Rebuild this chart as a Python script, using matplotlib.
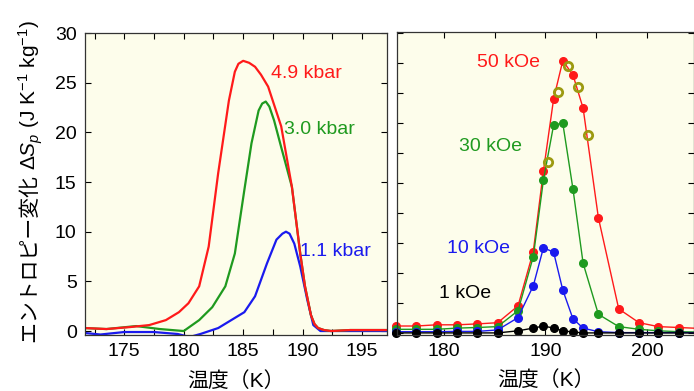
import matplotlib
matplotlib.use("Agg")
import matplotlib.pyplot as plt
from matplotlib.ticker import MultipleLocator

plt.rcParams['font.family'] = ['Liberation Sans', 'Noto Sans CJK JP', 'DejaVu Sans']
plt.rcParams['mathtext.fontset'] = 'custom'
plt.rcParams['mathtext.rm'] = 'Liberation Sans'
plt.rcParams['mathtext.it'] = 'Liberation Sans:italic'

# ---- left panel: pressure-induced entropy change (curves) ----
t_red = [171.7, 173.5, 175.5, 177.1, 178.5, 179.6, 180.4, 181.3, 182.1, 182.9, 183.8, 184.3,
         184.6, 185.0, 185.5, 186.0, 186.5, 187.1, 188.2, 189.1, 189.8, 190.2, 190.7, 191.0,
         191.3, 191.8, 192.4, 194.0, 197.1]
s_red = [0.3, 0.2, 0.4, 0.6, 1.1, 1.9, 2.8, 4.5, 8.5, 15.9, 23.2, 26.1,
         26.9, 27.2, 27.0, 26.6, 25.8, 24.6, 20.6, 14.5, 7.8, 4.5, 1.6, 0.7,
         0.3, 0.1, 0.0, 0.1, 0.1]

t_green = [171.7, 173.5, 176.0, 178.0, 180.0, 181.3, 182.4, 183.5, 184.3, 185.1, 185.7,
           186.3, 186.6, 186.9, 187.2, 187.6, 188.2, 189.1, 189.8, 190.2, 190.7, 191.0,
           191.3, 191.8, 192.4, 194.0, 197.1]
s_green = [0.3, 0.2, 0.5, 0.2, 0.0, 1.1, 2.4, 4.5, 7.8, 14.2, 18.9,
           22.2, 22.9, 23.1, 22.6, 21.2, 18.5, 14.5, 7.8, 4.5, 1.6, 0.7,
           0.3, 0.1, 0.0, 0.1, 0.1]

t_blue = [171.7, 173.0, 175.0, 177.5, 179.5, 180.5, 181.4, 182.9, 184.0, 185.1, 186.0,
          187.0, 187.8, 188.3, 188.6, 188.9, 189.3, 189.8, 190.4, 190.9, 191.5, 194.0, 197.1]
s_blue = [-0.2, -0.35, -0.1, -0.1, -0.3, -0.6, -0.3, 0.3, 1.1, 1.9, 3.5,
          6.8, 9.2, 9.8, 10.0, 9.8, 8.8, 6.5, 3.1, 0.6, 0.0, 0.0, 0.0]

# ---- right panel: field-induced entropy change (points) ----
t_field = [175.3, 177.3, 179.3, 181.3, 183.3, 185.3, 187.3, 188.8, 189.8, 190.8,
           191.7, 192.7, 193.7, 195.2, 197.2, 199.2, 201.1, 203.1, 205.1]
s_50 = [0.23, 0.23, 0.27, 0.27, 0.30, 0.34, 0.90, 2.71, 5.40, 7.80,
        9.07, 8.60, 7.49, 3.84, 0.80, 0.34, 0.21, 0.18, 0.15]
s_30 = [0.12, 0.12, 0.12, 0.16, 0.18, 0.21, 0.74, 2.54, 5.10, 6.93,
        6.99, 4.80, 2.32, 0.62, 0.21, 0.12, 0.07, 0.04, 0.03]
s_10 = [0.04, 0.04, 0.04, 0.05, 0.05, 0.10, 0.51, 1.57, 2.84, 2.69,
        1.43, 0.47, 0.16, 0.04, 0.01, 0.01, 0.01, 0.01, 0.01]
s_1 = [0.0, 0.0, 0.0, 0.0, 0.0, 0.0, 0.07, 0.16, 0.23, 0.16,
       0.07, 0.03, 0.0, 0.0, 0.0, 0.0, 0.0, 0.0, 0.0]
t_open = [190.25, 191.26, 192.2, 193.2, 194.2]
s_open = [5.68, 8.04, 8.91, 8.19, 6.60]

RED, GREEN, BLUE, OLIVE = '#ff1a1a', '#1f9a1f', '#1a1aee', '#9c9a10'
BG = '#fdfdeb'

fig = plt.figure(figsize=(6.94, 3.91), dpi=100)
ax1 = fig.add_axes([0.1225, 0.1432, 0.4352, 0.7724])
ax2 = fig.add_axes([0.572, 0.1432, 0.428, 0.775])

for ax in (ax1, ax2):
    ax.set_facecolor(BG)
    ax.tick_params(direction='in', top=True, right=True, length=4, width=0.8,
                   labelsize=14, pad=6)
    for sp in ax.spines.values():
        sp.set_linewidth(0.9)
        sp.set_color('#333333')

ax1.plot(t_blue, s_blue, color=BLUE, lw=1.6)
ax1.plot(t_green, s_green, color=GREEN, lw=1.6)
ax1.plot(t_red, s_red, color=RED, lw=1.6)
ax1.set_xlim(171.7, 197.1)
ax1.set_ylim(-0.4, 30)
ax1.xaxis.set_major_locator(MultipleLocator(5))
ax1.xaxis.set_minor_locator(MultipleLocator(2.5))
ax1.yaxis.set_major_locator(MultipleLocator(5))
ax1.tick_params(which='minor', direction='in', top=True, right=True, length=4, width=0.8)
ax1.text(187.3, 25.9, '4.9 kbar', color=RED, fontsize=14, va='center')
ax1.text(188.4, 20.3, '3.0 kbar', color=GREEN, fontsize=14, va='center')
ax1.text(189.8, 8.0, '1.1 kbar', color=BLUE, fontsize=14, va='center')
ax1.set_xlabel('温度（K）', fontsize=15, labelpad=8)

ax2.plot(t_field, s_50, '-o', color=RED, lw=1.0, ms=5.5, clip_on=False)
ax2.plot(t_field, s_30, '-o', color=GREEN, lw=1.0, ms=5.5, clip_on=False)
ax2.plot(t_field, s_10, '-o', color=BLUE, lw=1.0, ms=5.5, clip_on=False)
ax2.plot(t_field, s_1, '-o', color='black', lw=1.0, ms=5.5, clip_on=False)
ax2.plot(t_open, s_open, 'o', mfc='none', mec=OLIVE, mew=2.0, ms=6)
ax2.set_xlim(175.4, 204.6)
ax2.set_ylim(-0.07, 10.03)
ax2.xaxis.set_major_locator(MultipleLocator(10))
ax2.xaxis.set_minor_locator(MultipleLocator(5))
ax2.yaxis.set_major_locator(MultipleLocator(1))
ax2.tick_params(which='minor', direction='in', top=True, right=True, length=4, width=0.8)
ax2.tick_params(labelleft=False)
ax2.text(183.3, 9.0, '50 kOe', color=RED, fontsize=14, va='center')
ax2.text(181.5, 6.2, '30 kOe', color=GREEN, fontsize=14, va='center')
ax2.text(180.3, 2.82, '10 kOe', color=BLUE, fontsize=14, va='center')
ax2.text(179.5, 1.32, '1 kOe', color='black', fontsize=14, va='center')
ax2.set_xlabel('温度（K）', fontsize=15, labelpad=7)

# y label in two pieces: mathtext can't fall back to the CJK font
lab_x = 0.045
lab_bottom = (391 - 343) / 391
t1 = fig.text(lab_x, lab_bottom, 'エントロピー変化 ', rotation=90, fontsize=15,
              ha='center', va='bottom')
fig.canvas.draw()
bb = t1.get_window_extent().transformed(fig.transFigure.inverted())
fig.text(lab_x, bb.y1, '$\\Delta S_p$ (J K$^{-1}$ kg$^{-1}$)', rotation=90, fontsize=15,
         ha='center', va='bottom')

fig.savefig('out.png', dpi=100)
